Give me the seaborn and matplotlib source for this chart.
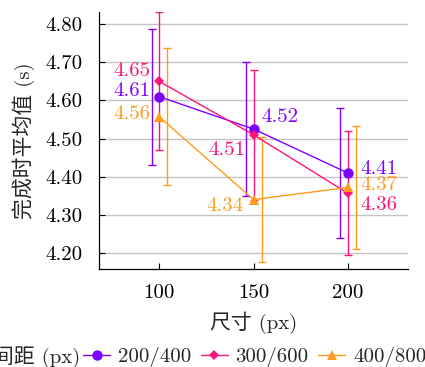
import numpy as np
import pandas as pd
import matplotlib
matplotlib.use("Agg")
import matplotlib.pyplot as plt
from matplotlib.lines import Line2D
import seaborn as sns

# Data: mean completion time and spread per target size and spacing group
sizes = [100, 150, 200]
groups = ["200/400", "300/600", "400/800"]
means_200_400 = [4.61, 4.525, 4.41]
means_300_600 = [4.65, 4.51, 4.357]
means_400_800 = [4.557, 4.34, 4.372]
err_200_400 = [0.178, 0.176, 0.171]
err_300_600 = [0.181, 0.170, 0.163]
err_400_800 = [0.180, 0.163, 0.161]
labels_200_400 = ["4.61", "4.52", "4.41"]
labels_300_600 = ["4.65", "4.51", "4.36"]
labels_400_800 = ["4.56", "4.34", "4.37"]

means = [means_200_400, means_300_600, means_400_800]
errs = [err_200_400, err_300_600, err_400_800]
labels = [labels_200_400, labels_300_600, labels_400_800]

df = pd.DataFrame({
    "size": sizes * 3,
    "mean": means_200_400 + means_300_600 + means_400_800,
    "gap": [g for g in groups for _ in sizes],
})

colors = {"200/400": "#8000ff", "300/600": "#ff1477", "400/800": "#ff9b1c"}
markers = {"200/400": "o", "300/600": "D", "400/800": "^"}
msizes = {"200/400": 7.5, "300/600": 5, "400/800": 7.5}
err_dodge = {"200/400": -4.0, "300/600": 0.0, "400/800": 4.3}

# per-label offsets in pixels (dx, dy, ha)
label_pos = {
    "200/400": [(-9, 6, "right"), (8, 12, "left"), (13, 4, "left")],
    "300/600": [(-9, 10, "right"), (-8, -15, "right"), (13, -12, "left")],
    "400/800": [(-9, 3, "right"), (-10, -6, "right"), (13, 2, "left")],
}

sns.set_theme(style="white")
plt.rcParams["font.family"] = ["cmr10", "Noto Sans CJK SC"]
plt.rcParams["axes.formatter.use_mathtext"] = True
plt.rcParams["mathtext.fontset"] = "cm"
fs = 15

fig = plt.figure(figsize=(4.25, 3.67), dpi=100)
ax = fig.add_axes([99 / 425, 1 - 269 / 367, 309 / 425, 257 / 367])

sns.lineplot(data=df, x="size", y="mean", hue="gap", style="gap",
             palette=colors, markers=markers, dashes=False, legend=False,
             linewidth=1.0, ax=ax, markeredgewidth=0)
for line, g in zip(ax.get_lines(), groups):
    line.set_markersize(msizes[g])

for g, m, e, labs in zip(groups, means, errs, labels):
    xs = np.array(sizes, dtype=float) + err_dodge[g]
    ax.errorbar(xs, m, yerr=e, fmt="none", ecolor=colors[g],
                elinewidth=1.0, capsize=2.6, capthick=1.0, zorder=1)
    for x, y, t, (dx, dy, ha) in zip(sizes, m, labs, label_pos[g]):
        ax.annotate(t, (x, y), xytext=(dx, dy), textcoords="offset pixels",
                    ha=ha, va="center", color=colors[g], fontsize=fs)

ax.set_xlim(68, 232)
ax.set_ylim(4.158, 4.832)
ax.set_xticks(sizes)
ax.set_xticklabels([str(s) for s in sizes])
yt = [4.2, 4.3, 4.4, 4.5, 4.6, 4.7, 4.8]
ax.set_yticks(yt)
ax.set_yticklabels([f"{v:.2f}" for v in yt])
ax.tick_params(direction="in", length=4, width=0.8, colors="black",
               labelsize=fs, left=True, bottom=True)
ax.tick_params(axis="x", pad=11)
ax.tick_params(axis="y", pad=12)
ax.yaxis.grid(True, color="#c4c4c4", linewidth=1.0)
ax.set_axisbelow(True)
for side in ["top", "right"]:
    ax.spines[side].set_visible(False)
for side in ["left", "bottom"]:
    ax.spines[side].set_color("black")
    ax.spines[side].set_linewidth(0.9)

ax.set_xlabel("尺寸 (px)", fontsize=fs, labelpad=7)
ax.set_ylabel("完成时平均值 (s)", fontsize=fs, labelpad=7)

handles = [Line2D([], [], color=colors[g], marker=markers[g],
                  markersize=msizes[g], markeredgewidth=0, linewidth=1.0)
           for g in groups]
fig.text(80 / 425, 1 - 357 / 367, "间距 (px)", ha="right", va="center",
         fontsize=fs)
fig.legend(handles, groups, loc="center left",
           bbox_to_anchor=(83 / 425, 1 - 357 / 367), ncol=3, frameon=False,
           fontsize=fs, handlelength=1.3, handletextpad=0.38,
           columnspacing=0.45, borderpad=0, borderaxespad=0)

fig.savefig("out.png", dpi=100)
